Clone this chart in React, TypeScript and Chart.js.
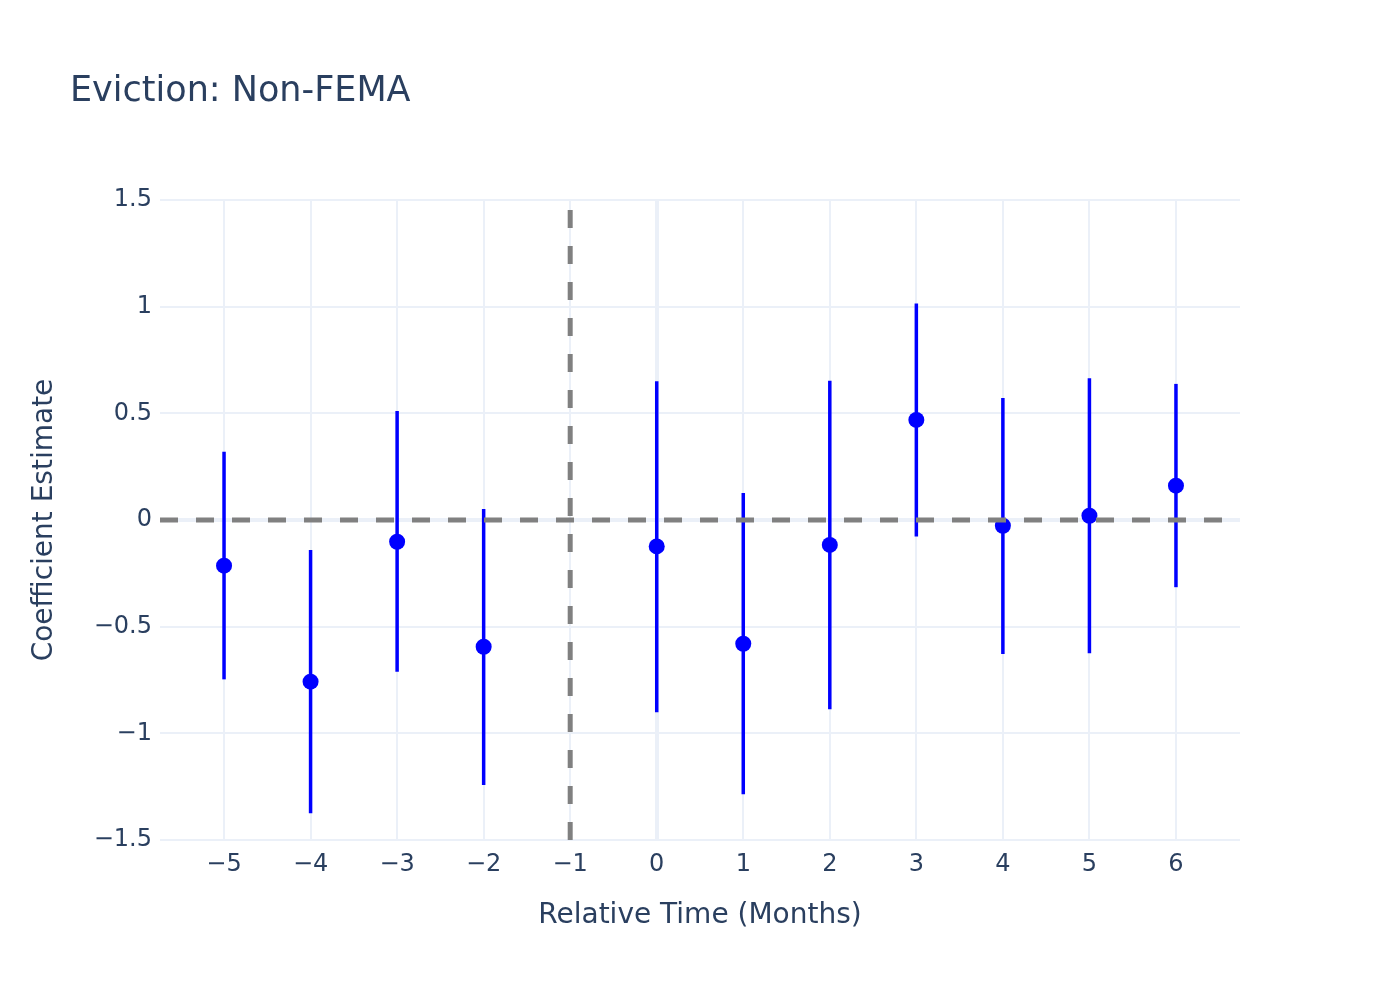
import React, { useEffect, useRef } from 'react';
import { Chart, registerables } from 'chart.js';

Chart.register(...registerables);

// ---- data ----
const relTime = [-5, -4, -3, -2, 0, 1, 2, 3, 4, 5, 6];
const coef = [-0.214, -0.758, -0.102, -0.594, -0.124, -0.580, -0.117, 0.469, -0.027, 0.020, 0.161];
const ciUpper = [0.320, -0.141, 0.511, 0.052, 0.650, 0.127, 0.653, 1.015, 0.572, 0.664, 0.638];
const ciLower = [-0.747, -1.375, -0.711, -1.242, -0.901, -1.286, -0.887, -0.077, -0.628, -0.625, -0.315];
const xTicks = [-5, -4, -3, -2, -1, 0, 1, 2, 3, 4, 5, 6];
const yTicks = [-1.5, -1, -0.5, 0, 0.5, 1, 1.5];
const xRange = [-5.74, 6.74];
const yRange = [-1.5, 1.5];
const eventTime = -1;
const refLevel = 0;
const chartTitle = 'Eviction: Non-FEMA';
const xTitle = 'Relative Time (Months)';
const yTitle = 'Coefficient Estimate';

const FONT = '"DejaVu Sans", Verdana, sans-serif';
const TEXT = '#2a3f5f';
const GRID = '#EBF0F8';

const fmt = (v: number) => {
  const s = String(Math.abs(v));
  return v < 0 ? '\u2212' + s : s;
};

const errorBarPlugin = {
  id: 'errorBars',
  beforeDatasetsDraw(chart: any) {
    const { ctx, scales } = chart;
    const xs = scales.x;
    const ys = scales.y;
    ctx.save();
    ctx.strokeStyle = '#0000ff';
    ctx.lineWidth = 3.5;
    for (let i = 0; i < relTime.length; i++) {
      const px = xs.getPixelForValue(relTime[i]);
      ctx.beginPath();
      ctx.moveTo(px, ys.getPixelForValue(ciLower[i]));
      ctx.lineTo(px, ys.getPixelForValue(ciUpper[i]));
      ctx.stroke();
    }
    ctx.restore();
  },
};

const textPlugin = {
  id: 'textPlugin',
  afterDraw(chart: any) {
    const { ctx, chartArea } = chart;
    ctx.save();
    ctx.fillStyle = TEXT;
    ctx.font = `35px ${FONT}`;
    ctx.textAlign = 'left';
    ctx.textBaseline = 'alphabetic';
    ctx.fillText(chartTitle, 70, 101);

    ctx.font = `28px ${FONT}`;
    ctx.textAlign = 'center';
    ctx.textBaseline = 'middle';
    ctx.fillText(xTitle, (chartArea.left + chartArea.right) / 2, 916);

    ctx.translate(45, (chartArea.top + chartArea.bottom) / 2);
    ctx.rotate(-Math.PI / 2);
    ctx.fillText(yTitle, 0, 0);
    ctx.restore();
  },
};

export default function App() {
  const ref = useRef<HTMLCanvasElement | null>(null);

  useEffect(() => {
    document.body.style.margin = '0';
    if (!ref.current) return;
    Chart.defaults.font.family = FONT;
    const chart = new Chart(ref.current, {
      type: 'scatter',
      data: {
        datasets: [
          {
            type: 'line',
            data: [
              { x: xRange[0], y: refLevel },
              { x: xRange[1], y: refLevel },
            ],
            borderColor: '#808080',
            borderWidth: 5,
            borderDash: [18, 18],
            pointRadius: 0,
            fill: false,
          } as any,
          {
            type: 'line',
            data: [
              { x: eventTime, y: yRange[0] },
              { x: eventTime, y: yRange[1] },
            ],
            borderColor: '#808080',
            borderWidth: 5,
            borderDash: [18, 18],
            pointRadius: 0,
            fill: false,
          } as any,
          {
            type: 'scatter',
            data: relTime.map((x, i) => ({ x, y: coef[i] })),
            backgroundColor: '#0000ff',
            borderWidth: 0,
            pointRadius: 8,
            pointHoverRadius: 8,
          },
        ],
      },
      options: {
        animation: false,
        responsive: false,
        devicePixelRatio: 1,
        layout: { padding: { left: 0, top: 200, right: 160, bottom: 0 } },
        plugins: { legend: { display: false }, tooltip: { enabled: false }, title: { display: false } },
        scales: {
          x: {
            type: 'linear',
            min: xRange[0],
            max: xRange[1],
            afterBuildTicks: (scale: any) => {
              scale.ticks = xTicks.map((v) => ({ value: v }));
            },
            afterFit: (scale: any) => {
              scale.height = 160;
            },
            grid: {
              color: GRID,
              lineWidth: (c: any) => (c.tick && c.tick.value === 0 ? 4 : 2),
              drawTicks: false,
            },
            border: { display: false },
            ticks: {
              color: TEXT,
              font: { size: 24, family: FONT },
              padding: 10,
              maxRotation: 0,
              autoSkip: false,
              callback: (v: any) => fmt(Number(v)),
            },
          },
          y: {
            type: 'linear',
            min: yRange[0],
            max: yRange[1],
            afterBuildTicks: (scale: any) => {
              scale.ticks = yTicks.map((v) => ({ value: v }));
            },
            afterFit: (scale: any) => {
              scale.width = 160;
            },
            grid: {
              color: GRID,
              lineWidth: (c: any) => (c.tick && c.tick.value === 0 ? 4 : 2),
              drawTicks: false,
            },
            border: { display: false },
            ticks: {
              color: TEXT,
              font: { size: 24, family: FONT },
              padding: 8,
              autoSkip: false,
              callback: (v: any) => fmt(Number(v)),
            },
          },
        },
      },
      plugins: [errorBarPlugin, textPlugin],
    });
    return () => chart.destroy();
  }, []);

  return <canvas ref={ref} width={1400} height={1000} style={{ display: 'block', width: 1400, height: 1000 }} />;
}
